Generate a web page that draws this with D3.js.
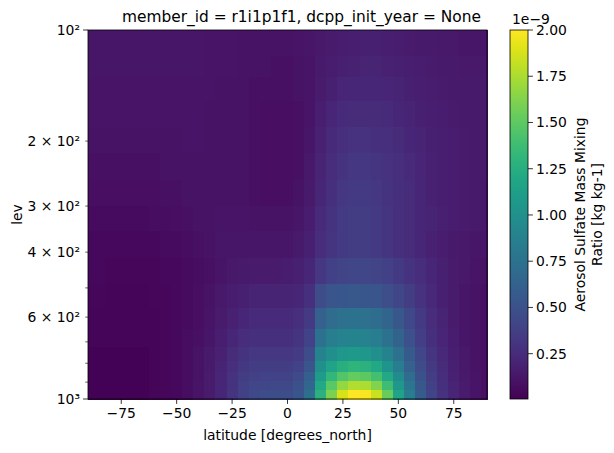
<!DOCTYPE html>
<html>
<head>
<meta charset="utf-8">
<script src="https://cdn.jsdelivr.net/npm/d3@7"></script>
<style>
  body { margin: 0; background: #fff; }
  text { font-family: "DejaVu Sans", sans-serif; }
</style>
</head>
<body>
<svg id="chart" width="614" height="453"></svg>
<script>
// latitude of every column (degrees north)
var lats = d3.range(-90, 91, 5);
// pressure levels (hPa), top to bottom
var levels = [110, 125, 143, 168, 198, 234, 275, 323, 380, 448, 525, 607, 688, 760, 820, 870, 920, 970];

// sulfate mixing ratio, in 1e-9 kg/kg, one row per level, one value per latitude
var r0  = [.12,.12,.12,.12,.12,.12,.12,.12,.12,.12,.12,.11,.11,.11,.10,.10,.10,.10,.10,.11,.12,.13,.15,.16,.17,.18,.18,.17,.16,.15,.14,.14,.13,.13,.12,.12,.12];
var r1  = [.12,.12,.12,.12,.12,.12,.12,.12,.12,.12,.12,.11,.11,.11,.10,.10,.10,.09,.09,.10,.11,.14,.16,.18,.19,.20,.20,.19,.18,.17,.16,.15,.14,.14,.13,.13,.13];
var r2  = [.11,.11,.11,.11,.11,.11,.11,.11,.11,.11,.11,.11,.10,.10,.10,.09,.09,.09,.09,.10,.11,.15,.18,.21,.22,.22,.22,.21,.20,.18,.17,.16,.15,.14,.14,.14,.14];
var r3  = [.11,.11,.11,.11,.11,.11,.11,.11,.11,.11,.11,.10,.10,.10,.10,.09,.08,.08,.08,.09,.11,.17,.21,.24,.25,.25,.25,.24,.22,.20,.18,.17,.16,.15,.14,.14,.14];
var r4  = [.10,.10,.10,.10,.10,.10,.10,.10,.10,.11,.11,.10,.10,.10,.10,.09,.08,.08,.08,.09,.12,.19,.24,.27,.29,.29,.28,.27,.25,.22,.20,.18,.17,.16,.15,.14,.14];
var r5  = [.09,.09,.09,.09,.09,.09,.09,.10,.10,.10,.10,.10,.10,.10,.10,.09,.08,.08,.08,.09,.13,.20,.26,.30,.32,.32,.31,.29,.27,.24,.21,.19,.17,.16,.15,.14,.14];
var r6  = [.08,.08,.08,.08,.08,.08,.08,.09,.09,.10,.10,.10,.10,.10,.10,.09,.08,.08,.08,.10,.14,.22,.28,.32,.34,.34,.32,.30,.28,.25,.22,.19,.17,.16,.15,.14,.13];
var r7  = [.06,.06,.06,.06,.06,.06,.07,.07,.08,.09,.10,.10,.11,.11,.11,.10,.10,.10,.10,.12,.16,.24,.30,.34,.36,.36,.34,.31,.28,.25,.22,.20,.18,.16,.15,.14,.13];
var r8  = [.05,.05,.05,.05,.05,.05,.05,.06,.06,.07,.09,.10,.12,.12,.12,.12,.12,.12,.12,.14,.18,.26,.31,.34,.36,.36,.34,.31,.28,.25,.22,.19,.16,.14,.13,.12,.12];
var r9  = [.05,.05,.04,.04,.04,.04,.04,.05,.05,.06,.07,.09,.11,.13,.14,.15,.15,.15,.16,.18,.22,.32,.38,.41,.42,.42,.41,.38,.34,.30,.26,.22,.18,.15,.13,.11,.10];
var r10 = [.04,.04,.03,.03,.03,.03,.04,.04,.05,.06,.08,.10,.13,.16,.18,.20,.20,.20,.20,.22,.28,.46,.52,.54,.55,.54,.52,.48,.42,.36,.29,.23,.18,.15,.12,.10,.09];
var r11 = [.03,.03,.03,.03,.03,.03,.03,.04,.05,.06,.08,.11,.15,.19,.22,.24,.24,.24,.24,.27,.34,.62,.70,.74,.75,.74,.71,.65,.55,.44,.34,.26,.20,.15,.12,.10,.09];
var r12 = [.03,.03,.03,.03,.03,.03,.03,.04,.05,.07,.09,.12,.17,.22,.26,.28,.28,.28,.28,.31,.40,.75,.84,.88,.90,.88,.84,.76,.63,.49,.37,.28,.21,.16,.12,.10,.09];
var r13 = [.02,.02,.02,.02,.02,.02,.03,.04,.05,.07,.10,.14,.19,.25,.30,.32,.32,.32,.32,.35,.46,.90,1.00,1.06,1.08,1.06,1.00,.90,.74,.56,.42,.31,.23,.17,.13,.10,.09];
var r14 = [.02,.02,.02,.02,.02,.02,.03,.04,.05,.07,.10,.14,.20,.27,.33,.36,.36,.36,.36,.40,.52,1.00,1.16,1.26,1.30,1.28,1.20,1.04,.84,.62,.46,.34,.25,.18,.13,.10,.09];
var r15 = [.02,.02,.02,.02,.02,.02,.03,.04,.05,.07,.10,.15,.21,.29,.36,.39,.40,.40,.40,.45,.60,1.10,1.32,1.46,1.52,1.50,1.40,1.20,.96,.70,.50,.36,.26,.19,.14,.11,.09];
var r16 = [.02,.02,.02,.02,.02,.02,.03,.04,.05,.07,.11,.15,.22,.30,.38,.42,.43,.44,.44,.50,.66,1.20,1.48,1.68,1.76,1.75,1.62,1.38,1.06,.78,.55,.39,.28,.20,.15,.11,.09];
var r17 = [.02,.02,.02,.02,.02,.02,.03,.04,.05,.07,.11,.15,.22,.31,.39,.44,.46,.47,.47,.54,.72,1.28,1.60,1.88,2.00,1.98,1.84,1.54,1.16,.84,.58,.41,.29,.21,.15,.11,.09];
var rows = [r0, r1, r2, r3, r4, r5, r6, r7, r8, r9, r10, r11, r12, r13, r14, r15, r16, r17];

var xTicks = [-75, -50, -25, 0, 25, 50, 75];
var yTicks = [100, 200, 300, 400, 500, 600, 700, 800, 900, 1000];
var yLabels = ["10²", "2 × 10²", "3 × 10²", "4 × 10²", "", "6 × 10²", "", "", "", "10³"];
var cbTicks = [0.25, 0.5, 0.75, 1.0, 1.25, 1.5, 1.75, 2.0];

var svg = d3.select("#chart");
var pLeft = 88, pRight = 487, pTop = 30, pBottom = 399;

var x = d3.scaleLinear().domain([-90, 90]).range([pLeft, pRight]);
var y = d3.scaleLog().domain([100, 1000]).range([pTop, pBottom]);
var color = d3.scaleSequential(d3.interpolateViridis).domain([0.005, 2.0]);

// cell edges from midpoints between centres, ends clipped to the axis
var latEdges = lats.map(function(d) { return [Math.max(-90, d - 2.5), Math.min(90, d + 2.5)]; });
var levEdges = levels.map(function(p, i) {
    var lo = i == 0 ? 100 : (levels[i - 1] + p) / 2;
    var hi = i == levels.length - 1 ? 1000 : (levels[i + 1] + p) / 2;
    return [lo, hi];
});

var cells = [];
rows.forEach(function(row, i) {
    row.forEach(function(v, j) {
        cells.push({ i: i, j: j, v: v });
    });
});

svg.append("g").attr("shape-rendering", "crispEdges")
    .selectAll("rect").data(cells).enter().append("rect")
    .attr("x", function(d) { return x(latEdges[d.j][0]); })
    .attr("width", function(d) { return x(latEdges[d.j][1]) - x(latEdges[d.j][0]) + 0.6; })
    .attr("y", function(d) { return y(levEdges[d.i][0]); })
    .attr("height", function(d) { return y(levEdges[d.i][1]) - y(levEdges[d.i][0]) + 0.6; })
    .attr("fill", function(d) { return color(d.v); });

svg.append("rect").attr("x", pLeft).attr("y", pTop)
    .attr("width", pRight - pLeft).attr("height", pBottom - pTop)
    .attr("fill", "none").attr("stroke", "#000").attr("stroke-width", 0.8);

// x axis
var xAxis = svg.append("g").attr("transform", "translate(0," + pBottom + ")");
xTicks.forEach(function(t) {
    xAxis.append("line").attr("x1", x(t)).attr("x2", x(t)).attr("y1", 0).attr("y2", 4.9)
        .attr("stroke", "#000").attr("stroke-width", 0.8);
    xAxis.append("text").attr("x", x(t)).attr("y", 19).attr("text-anchor", "middle")
        .attr("font-size", 13.9).text(t < 0 ? "\u2212" + Math.abs(t) : t);
});
svg.append("text").attr("x", (pLeft + pRight) / 2).attr("y", 440).attr("text-anchor", "middle")
    .attr("font-size", 13.9).text("latitude [degrees_north]");

// y axis
yTicks.forEach(function(t, k) {
    var major = (t == 100 || t == 1000);
    svg.append("line").attr("x1", pLeft).attr("x2", pLeft - (major ? 4.9 : 2.8))
        .attr("y1", y(t)).attr("y2", y(t)).attr("stroke", "#000").attr("stroke-width", major ? 0.8 : 0.6);
    if (yLabels[k]) {
        svg.append("text").attr("x", pLeft - 8).attr("y", y(t) + 5).attr("text-anchor", "end")
            .attr("font-size", 13.9).text(yLabels[k]);
    }
});
svg.append("text").attr("transform", "translate(22," + ((pTop + pBottom) / 2) + ") rotate(-90)")
    .attr("text-anchor", "middle").attr("font-size", 13.9).text("lev");

svg.append("text").attr("x", (pLeft + pRight) / 2 + 14).attr("y", 22).attr("text-anchor", "middle")
    .attr("font-size", 15.4).text("member_id = r1i1p1f1, dcpp_init_year = None");

// colorbar
var cbx = 510, cbw = 18;
var cy = d3.scaleLinear().domain(color.domain()).range([pBottom, pTop]);
var grad = svg.append("defs").append("linearGradient").attr("id", "cb")
    .attr("x1", 0).attr("x2", 0).attr("y1", 1).attr("y2", 0);
d3.range(0, 1.001, 0.05).forEach(function(s) {
    grad.append("stop").attr("offset", s).attr("stop-color", d3.interpolateViridis(s));
});
svg.append("rect").attr("x", cbx).attr("y", pTop).attr("width", cbw).attr("height", pBottom - pTop)
    .attr("fill", "url(#cb)").attr("stroke", "#000").attr("stroke-width", 0.8);
cbTicks.forEach(function(t) {
    svg.append("line").attr("x1", cbx + cbw).attr("x2", cbx + cbw + 4.9)
        .attr("y1", cy(t)).attr("y2", cy(t)).attr("stroke", "#000").attr("stroke-width", 0.8);
    svg.append("text").attr("x", cbx + cbw + 8).attr("y", cy(t) + 5)
        .attr("font-size", 13.9).text(t.toFixed(2));
});
svg.append("text").attr("x", cbx + 2).attr("y", 24).attr("font-size", 13.9).text("1e\u22129");
svg.append("text").attr("transform", "translate(585," + ((pTop + pBottom) / 2) + ") rotate(-90)")
    .attr("text-anchor", "middle").attr("font-size", 13.9).text("Aerosol Sulfate Mass Mixing");
svg.append("text").attr("transform", "translate(602," + ((pTop + pBottom) / 2) + ") rotate(-90)")
    .attr("text-anchor", "middle").attr("font-size", 13.9).text("Ratio [kg kg-1]");
</script>
</body>
</html>
